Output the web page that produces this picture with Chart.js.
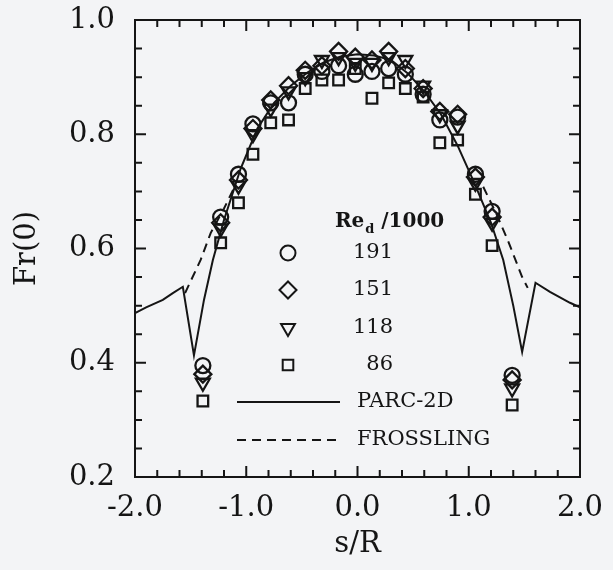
<!DOCTYPE html>
<html>
<head>
<meta charset="utf-8">
<script src="https://cdn.jsdelivr.net/npm/chart.js"></script>
<style>
  html, body { margin: 0; padding: 0; background: #f3f4f6; }
  canvas { display: block; }
</style>
</head>
<body>
<canvas id="fr0" width="613" height="570"></canvas>
<script>
// s/R of the measurement stations
var stations = [-1.39, -1.23, -1.07, -0.94, -0.78, -0.62, -0.47, -0.32, -0.17, -0.02,
                0.13, 0.28, 0.43, 0.59, 0.74, 0.90, 1.06, 1.21, 1.39];

// Fr(0) for each Re_d/1000
var re191 = [0.395, 0.655, 0.730, 0.818, 0.855, 0.855, 0.905, 0.910, 0.920, 0.905,
             0.910, 0.915, 0.905, 0.870, 0.825, 0.830, 0.730, 0.665, 0.378];
var re151 = [0.380, 0.645, 0.720, 0.810, 0.860, 0.885, 0.912, 0.920, 0.945, 0.935,
             0.930, 0.945, 0.915, 0.880, 0.840, 0.835, 0.725, 0.655, 0.370];
var re118 = [0.365, 0.635, 0.710, 0.800, 0.845, 0.875, 0.900, 0.930, 0.935, 0.925,
             0.925, 0.935, 0.930, 0.885, 0.835, 0.815, 0.715, 0.645, 0.355];
var re86  = [0.333, 0.610, 0.680, 0.765, 0.820, 0.825, 0.880, 0.895, 0.895, 0.915,
             0.863, 0.890, 0.880, 0.865, 0.785, 0.790, 0.695, 0.605, 0.326];

// PARC-2D computation
var parcS  = [-2.0, -1.9, -1.75, -1.66, -1.57, -1.47, -1.38, -1.3, -1.2, -1.05, -0.9, -0.75,
              -0.6, -0.45, -0.3, -0.15, 0, 0.15, 0.3, 0.45, 0.6, 0.75, 0.9, 1.05, 1.2,
              1.31, 1.4, 1.48, 1.6, 1.73, 1.91, 2.0];
var parcFr = [0.487, 0.497, 0.510, 0.522, 0.533, 0.413, 0.510, 0.580, 0.650, 0.740, 0.810, 0.855,
              0.885, 0.908, 0.926, 0.936, 0.940, 0.938, 0.930, 0.907, 0.875, 0.835, 0.780, 0.715, 0.645,
              0.580, 0.500, 0.419, 0.540, 0.524, 0.505, 0.497];

// Frossling (only the parts that leave the PARC curve)
var frossS  = [-1.55, -1.41, -1.32, -1.2, -1.1, 0, 1.13, 1.25, 1.35, 1.48, 1.53];
var frossFr = [0.522, 0.580, 0.627, 0.670, 0.710, null, 0.708, 0.660, 0.615, 0.550, 0.531];

var xTicks = [-2, -1, 0, 1, 2];
var yTicks = [0.2, 0.4, 0.6, 0.8, 1.0];

var ink = "#151515";
var serif = "'DejaVu Serif', 'Liberation Serif', serif";

function toXY(xs, ys) {
    return xs.map(function (x, i) { return { x: x, y: ys[i] }; });
}

function marker(label, data, style, radius, rotation) {
    return {
        label: label,
        data: toXY(stations, data),
        showLine: false,
        pointStyle: style,
        pointRadius: radius,
        pointRotation: rotation || 0,
        pointBorderWidth: 2.3,
        borderColor: ink,
        backgroundColor: "rgba(0,0,0,0)"
    };
}

// frame with inward ticks on all four sides
var frame = {
    id: "frame",
    afterDraw: function (chart) {
        var ctx = chart.ctx, a = chart.chartArea;
        var sx = chart.scales.x, sy = chart.scales.y;
        ctx.save();
        ctx.strokeStyle = ink;
        ctx.lineWidth = 2;
        ctx.strokeRect(a.left, a.top, a.right - a.left, a.bottom - a.top);
        ctx.beginPath();
        for (var i = 0; i <= 20; i++) {
            var px = sx.getPixelForValue(-2 + i * 0.2);
            var len = (i % 5 === 0) ? 11 : 7;
            ctx.moveTo(px, a.bottom); ctx.lineTo(px, a.bottom - len);
            ctx.moveTo(px, a.top); ctx.lineTo(px, a.top + len);
        }
        for (var j = 0; j <= 16; j++) {
            var py = sy.getPixelForValue(0.2 + j * 0.05);
            var l2 = (j % 4 === 0) ? 11 : 7;
            ctx.moveTo(a.left, py); ctx.lineTo(a.left + l2, py);
            ctx.moveTo(a.right, py); ctx.lineTo(a.right - l2, py);
        }
        ctx.stroke();
        ctx.restore();
    }
};

function drawMarker(ctx, style, x, y, r) {
    ctx.beginPath();
    if (style === "circle") {
        ctx.arc(x, y, r, 0, Math.PI * 2);
    } else if (style === "rectRot") {
        ctx.moveTo(x - r, y); ctx.lineTo(x, y - r); ctx.lineTo(x + r, y); ctx.lineTo(x, y + r);
        ctx.closePath();
    } else if (style === "triangle") {
        ctx.moveTo(x, y + r);
        ctx.lineTo(x - r * 0.866, y - r * 0.5);
        ctx.lineTo(x + r * 0.866, y - r * 0.5);
        ctx.closePath();
    } else {
        var h = r * Math.SQRT1_2;
        ctx.rect(x - h, y - h, 2 * h, 2 * h);
    }
    ctx.stroke();
}

// legend inside the plot
var keyBox = {
    id: "keyBox",
    afterDraw: function (chart) {
        var ctx = chart.ctx;
        var ds = chart.data.datasets;
        ctx.save();
        ctx.fillStyle = ink;
        ctx.strokeStyle = ink;
        ctx.lineWidth = 2;
        ctx.textBaseline = "middle";

        ctx.font = "bold 20px " + serif;
        ctx.textAlign = "left";
        ctx.fillText("Re", 335, 222);
        var w = ctx.measureText("Re").width;
        ctx.font = "bold 13px " + serif;
        ctx.fillText("d", 335 + w + 1, 230);
        ctx.font = "bold 20px " + serif;
        ctx.fillText(" /1000", 335 + w + 10, 222);

        var rows = [253, 290, 328, 365];
        ctx.font = "21px " + serif;
        for (var i = 0; i < 4; i++) {
            drawMarker(ctx, ds[i].pointStyle, 288, rows[i], ds[i].pointRadius);
            ctx.textAlign = "right";
            ctx.fillText(ds[i].label, 393, rows[i]);
        }

        var lines = [[ds[4], 402], [ds[5], 440]];
        lines.forEach(function (l) {
            ctx.setLineDash(l[0].borderDash || []);
            ctx.beginPath();
            ctx.moveTo(237, l[1]); ctx.lineTo(340, l[1]);
            ctx.stroke();
            ctx.setLineDash([]);
            ctx.textAlign = "left";
            ctx.fillText(l[0].label, 357, l[1]);
        });
        ctx.restore();
    }
};

new Chart(document.getElementById("fr0").getContext("2d"), {
    type: "scatter",
    data: {
        datasets: [
            marker("191", re191, "circle", 7.5),
            marker("151", re151, "rectRot", 8.5),
            marker("118", re118, "triangle", 8, 180),
            marker("86", re86, "rect", 7.5),
            {
                label: "PARC-2D",
                data: toXY(parcS, parcFr),
                showLine: true,
                pointRadius: 0,
                borderColor: ink,
                borderWidth: 2,
                tension: 0
            },
            {
                label: "FROSSLING",
                data: toXY(frossS, frossFr),
                showLine: true,
                spanGaps: false,
                pointRadius: 0,
                borderColor: ink,
                borderWidth: 2,
                borderDash: [9, 6],
                tension: 0
            }
        ]
    },
    options: {
        responsive: false,
        animation: false,
        layout: { padding: { left: 0, right: 33, top: 20, bottom: 0 } },
        plugins: {
            legend: { display: false },
            tooltip: { enabled: false }
        },
        scales: {
            x: {
                type: "linear",
                min: -2,
                max: 2,
                afterBuildTicks: function (scale) {
                    scale.ticks = xTicks.map(function (v) { return { value: v }; });
                },
                afterFit: function (scale) {
                    scale.height = 93;
                    scale.paddingLeft = 0;
                    scale.paddingRight = 0;
                },
                grid: { display: false, drawTicks: false },
                border: { display: false },
                ticks: {
                    color: ink,
                    padding: 14,
                    maxRotation: 0,
                    font: { family: serif, size: 29 },
                    callback: function (v) { return v.toFixed(1); }
                },
                title: {
                    display: true,
                    text: "s/R",
                    color: ink,
                    font: { family: serif, size: 29 },
                    padding: { top: 0, bottom: 8 }
                }
            },
            y: {
                type: "linear",
                min: 0.2,
                max: 1.0,
                afterBuildTicks: function (scale) {
                    scale.ticks = yTicks.map(function (v) { return { value: v }; });
                },
                afterFit: function (scale) {
                    scale.width = 135;
                    scale.paddingTop = 0;
                    scale.paddingBottom = 0;
                },
                grid: { display: false, drawTicks: false },
                border: { display: false },
                ticks: {
                    color: ink,
                    padding: 20,
                    font: { family: serif, size: 29 },
                    callback: function (v) { return v.toFixed(1); }
                },
                title: {
                    display: true,
                    text: "Fr(0)",
                    color: ink,
                    font: { family: serif, size: 29 },
                    padding: { top: 10, bottom: 0 }
                }
            }
        }
    },
    plugins: [frame, keyBox]
});
</script>
</body>
</html>
